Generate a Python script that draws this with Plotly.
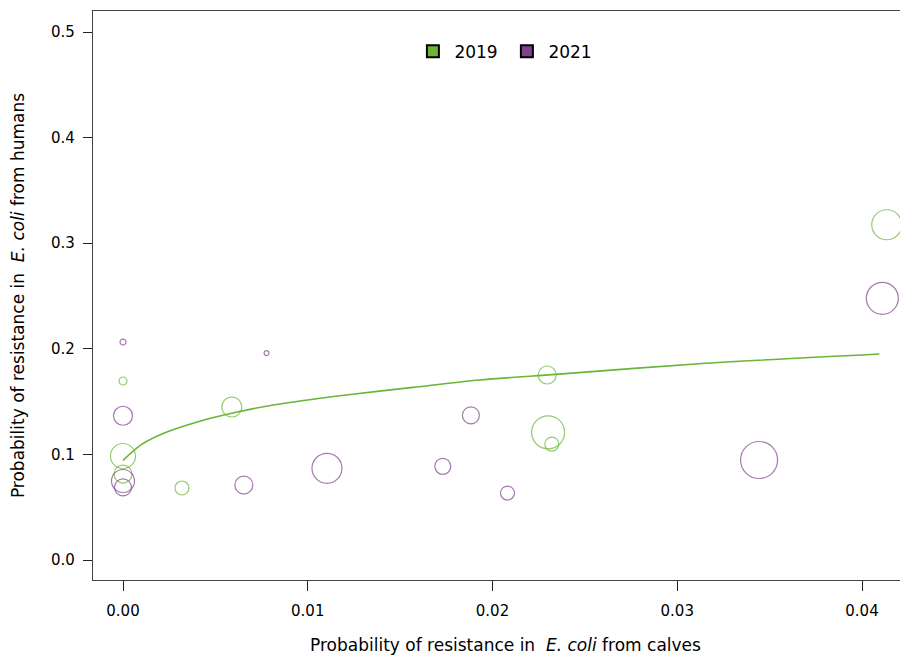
import plotly.graph_objects as go

# 2019 bubbles
x2019 = [0.0, 0.0, 0.0, 0.00319, 0.00589, 0.02296, 0.02301, 0.02321, 0.04134]
y2019 = [0.1695, 0.0985, 0.0814, 0.0682, 0.1449, 0.1752, 0.1209, 0.1098, 0.3175]
w2019 = [8, 25, 18, 14, 20, 18, 33, 14, 30]

# 2021 bubbles
x2021 = [0.0, 0.00777, 0.0, 0.0, 0.0, 0.00654, 0.01104, 0.01731, 0.01883, 0.02081, 0.03443, 0.04110]
y2021 = [0.2064, 0.1960, 0.1366, 0.0748, 0.0688, 0.0710, 0.0868, 0.0887, 0.1370, 0.0634, 0.0947, 0.2478]
w2021 = [6, 5, 19, 23, 17, 18, 30, 16, 17, 14, 37, 32]

# fitted curve (2019)
fit_x = [0.0, 0.00101, 0.00227, 0.00407, 0.00588, 0.00822, 0.01209, 0.01569, 0.01930, 0.02344, 0.03119, 0.04094]
fit_y = [0.0944, 0.1095, 0.1205, 0.1310, 0.1389, 0.1471, 0.1563, 0.1635, 0.1705, 0.1758, 0.1859, 0.1951]

series_names = ["2019", "2021"]
x_ticks = [0.0, 0.01, 0.02, 0.03, 0.04]
x_tick_text = ["0.00", "0.01", "0.02", "0.03", "0.04"]
y_ticks = [0.0, 0.1, 0.2, 0.3, 0.4, 0.5]
y_tick_text = ["0.0", "0.1", "0.2", "0.3", "0.4", "0.5"]

GREEN = "#6BB536"
PURPLE = "#80418F"
FONT = "DejaVu Sans"

fig = go.Figure()

fig.add_trace(go.Scatter(
    x=x2019, y=y2019, mode="markers", showlegend=False, hoverinfo="skip",
    marker=dict(symbol="circle", size=w2019, sizemode="diameter",
                color="rgba(0,0,0,0)", line=dict(color=GREEN, width=1.2)),
))
fig.add_trace(go.Scatter(
    x=x2021, y=y2021, mode="markers", showlegend=False, hoverinfo="skip",
    marker=dict(symbol="circle", size=w2021, sizemode="diameter",
                color="rgba(0,0,0,0)", line=dict(color=PURPLE, width=1.2)),
))
fig.add_trace(go.Scatter(
    x=fit_x, y=fit_y, mode="lines", showlegend=False, hoverinfo="skip",
    line=dict(color=GREEN, width=1.6, shape="spline", smoothing=0.8),
))

# legend entries
for name, col in zip(series_names, [GREEN, PURPLE]):
    fig.add_trace(go.Scatter(
        x=[None], y=[None], mode="markers", name=name,
        marker=dict(symbol="square", size=13, color=col,
                    line=dict(color="black", width=1)),
    ))

fig.update_layout(
    width=900, height=648,
    margin=dict(l=85, r=0, t=3, b=76),
    paper_bgcolor="white", plot_bgcolor="white",
    font=dict(family=FONT, size=14, color="black"),
    legend=dict(orientation="h", x=0.506, xanchor="center", y=0.96, yanchor="top",
                font=dict(size=17, family=FONT), bgcolor="rgba(0,0,0,0)",
                itemsizing="constant", itemwidth=33, entrywidth=46),
    xaxis=dict(
        range=[-0.001624, 0.04249], tickvals=x_ticks, ticktext=x_tick_text,
        showgrid=False, zeroline=False, showline=True, linecolor="#444",
        linewidth=1.3, mirror=True, ticks="outside", ticklen=10, tickcolor="#222",
        ticklabelstandoff=7,
        tickfont=dict(size=15, family=FONT),
    ),
    yaxis=dict(
        range=[-0.01894, 0.5199], tickvals=y_ticks, ticktext=y_tick_text,
        showgrid=False, zeroline=False, showline=True, linecolor="#444",
        linewidth=1.3, mirror=False, ticks="outside", ticklen=9, tickcolor="#222",
        ticklabelstandoff=5,
        tickfont=dict(size=15, family=FONT),
        title=dict(text="Probability of resistance in  <i>E. coli</i> from humans",
                   font=dict(size=17, family=FONT), standoff=23),
    ),
    annotations=[dict(
        text="Probability of resistance in  <i>E. coli</i> from calves",
        xref="paper", yref="paper", x=(505 - 93) / 815, y=0, yshift=-65,
        xanchor="center", yanchor="middle", showarrow=False,
        font=dict(size=17, family=FONT, color="black"),
    )],
)

fig.write_html("out.html")
